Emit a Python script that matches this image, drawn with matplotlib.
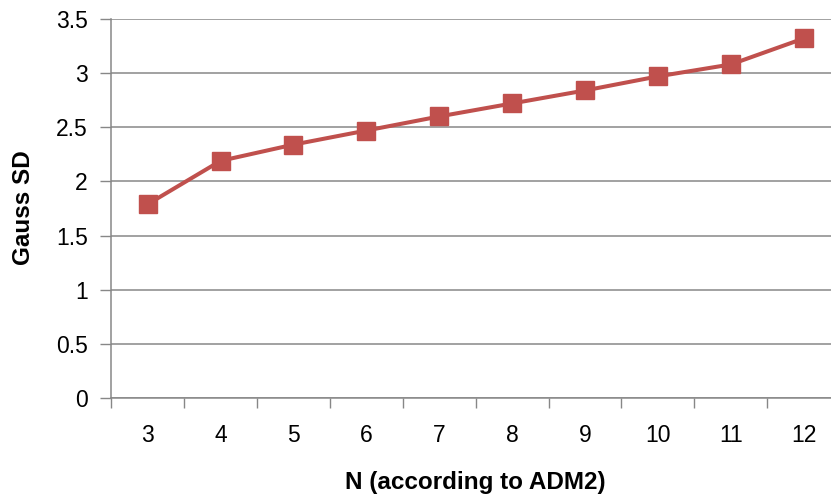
import matplotlib
matplotlib.use("Agg")
import matplotlib.pyplot as plt
from matplotlib.ticker import FixedLocator, FormatStrFormatter

plt.rcParams['font.family'] = ['Liberation Sans', 'DejaVu Sans']

# data
n_labels = ['3', '4', '5', '6', '7', '8', '9', '10', '11', '12']
gauss_sd = [1.79, 2.19, 2.34, 2.47, 2.60, 2.72, 2.84, 2.97, 3.08, 3.32]
y_ticks = [0, 0.5, 1, 1.5, 2, 2.5, 3, 3.5]

red = '#C0504D'
grey = '#878787'

fig = plt.figure(figsize=(8.31, 4.98), dpi=100)
# plot area runs past the right edge of the picture, as in the original
ax = fig.add_axes([111.3 / 831, 1 - 398 / 498, (840 - 111.3) / 831, (398 - 19) / 498])

x = list(range(len(n_labels)))
ax.plot(x, gauss_sd, color=red, linewidth=2.9, marker='s', markersize=12.5,
        markerfacecolor=red, markeredgecolor=red, zorder=3, clip_on=False)

ax.set_xlim(-0.5, len(n_labels) - 0.5)
ax.set_ylim(0, 3.5)

# category axis: ticks between the categories, labels centered
ax.xaxis.set_major_locator(FixedLocator(x))
ax.set_xticklabels(n_labels)
ax.xaxis.set_minor_locator(FixedLocator([i - 0.5 for i in range(len(n_labels) + 1)]))
ax.tick_params(axis='x', which='major', length=0, pad=19, labelsize=16.5)
ax.tick_params(axis='x', which='minor', length=7, width=1, color=grey, direction='out')

ax.set_yticks(y_ticks)
ax.yaxis.set_major_formatter(FormatStrFormatter('%g'))
ax.tick_params(axis='y', length=8, width=1, color=grey, pad=9, labelsize=16.5)

ax.grid(True, axis='y', color=grey, linewidth=1.1)
ax.set_axisbelow(True)

for side in ['top', 'right']:
    ax.spines[side].set_visible(False)
for side in ['left', 'bottom']:
    ax.spines[side].set_color(grey)
    ax.spines[side].set_linewidth(1.1)

fig.text(475 / 831, 1 - 482 / 498, 'N (according to ADM2)', ha='center', va='center',
         fontsize=17.5, fontweight='bold')
fig.text(24 / 831, 1 - 208 / 498, 'Gauss SD', ha='center', va='center', rotation=90,
         fontsize=17.5, fontweight='bold')

fig.savefig('out.png', dpi=100)
